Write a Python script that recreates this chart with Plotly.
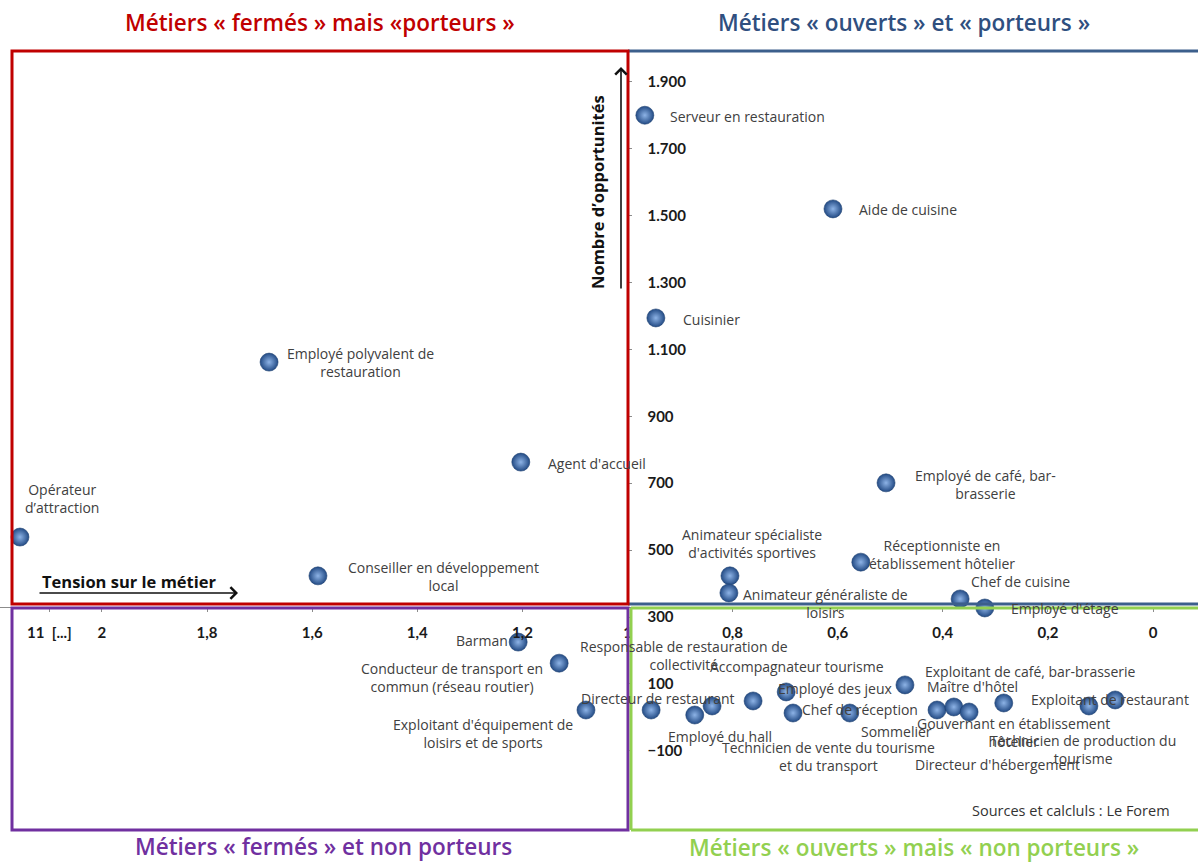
import plotly.graph_objects as go

# ---------------- data ----------------
metiers = [
    "Serveur en restauration", "Aide de cuisine", "Cuisinier",
    "Employé polyvalent de<br>restauration", "Agent d'accueil",
    "Opérateur<br>d’attraction", "Conseiller en développement<br>local",
    "Employé de café, bar-<br>brasserie",
    "Animateur spécialiste<br>d'activités sportives",
    "Réceptionniste en<br>établissement hôtelier",
    "Animateur généraliste de<br>loisirs", "Chef de cuisine", "Employé d'étage",
    "Barman", "Conducteur de transport en<br>commun (réseau routier)",
    "Exploitant d'équipement de<br>loisirs et de sports",
    "Responsable de restauration de<br>collectivité", "Employé du hall",
    "Technicien de vente du tourisme<br>et du transport",
    "Directeur de restaurant", "Accompagnateur tourisme", "Chef de réception",
    "Sommelier", "Employé des jeux", "Maître d'hôtel",
    "Gouvernant en établissement<br>hôtelier", "Directeur d'hébergement",
    "Exploitant de café, bar-brasserie",
    "Technicien de production du<br>tourisme", "Exploitant de restaurant",
]
tension = [0.967, 0.609, 0.946, 1.682, 1.203, 11, 1.589, 0.508, 0.805, 0.556,
           0.807, 0.367, 0.320, 1.208, 1.130, 1.079, 0.955, 0.872, 0.839, 0.761,
           0.698, 0.685, 0.577, 0.472, 0.411, 0.379, 0.350, 0.284, 0.122, 0.072]
opportunites = [1800, 1520, 1194, 1062, 763, 539, 423, 701, 423, 464,
                372, 354, 327, 225, 162, 22, 22, 7, 34, 49,
                76, 13, 13, 97, 22, 31, 16, 43, 34, 52]

x_tickvals = [2.1, 2, 1.8, 1.6, 1.4, 1.2, 1, 0.8, 0.6, 0.4, 0.2, 0]
x_ticktext = ["11  [...]", "2", "1,8", "1,6", "1,4", "1,2", "1", "0,8", "0,6", "0,4", "0,2", "0"]
y_tickvals = [-100, 100, 300, 500, 700, 900, 1100, 1300, 1500, 1700, 1900]

# ---------------- layout helpers (styles / placement) ----------------
W, H = 1198, 863
X_RANGE = [2.194, -0.0856]
Y_RANGE = [-435.4, 2144.5]
X_CROSS, Y_CROSS = 1, 330          # axes crossing values
AXIS_BREAK_LIMIT, BREAK_POS = 2.15, 2.156  # values beyond the break drawn at the break

def shown_x(v):
    return BREAK_POS if v > AXIS_BREAK_LIMIT else v

# label placement: (anchor, dx px, dy px) relative to the marker
label_pos = [
    ("left", 23, 1), ("left", 24, 1), ("left", 25, 2), ("center", 91, 0), ("left", 25, 1),
    ("center", 42, -39), ("center", 126, 1), ("center", 99, 2), ("center", 22, -32),
    ("center", 81, -8), ("center", 97, 11), ("center", 60, -17), ("center", 80, 1),
    ("right", -8, -2), ("center", -107, 14), ("center", -103, 23), ("center", 33, -55),
    ("center", 25, 21), ("center", 116, 51), ("right", -16, -2), ("center", 11, -25),
    ("center", 67, -4), ("center", 47, 18), ("right", -11, 4), ("center", 35, -24),
    ("center", 60, 26), ("center", 28, 52), ("center", 27, -31), ("center", -6, 44),
    ("center", -5, 0),
]

def px(xp, yp):
    return xp / W, (H - yp) / H

fig = go.Figure()

fig.add_trace(go.Scatter(
    x=[shown_x(v) for v in tension], y=opportunites, mode="markers",
    marker=dict(size=18, color="#234b85",
                gradient=dict(type="radial", color="#8db3e6"),
                line=dict(width=0.6, color="#1d3f70")),
    hoverinfo="skip", showlegend=False,
))

label_font = dict(family="Open Sans", size=14, color="#404040")
annotations = []
for name, tx, ty, (anc, dx, dy) in zip(metiers, tension, opportunites, label_pos):
    annotations.append(dict(
        x=shown_x(tx), y=ty, xref="x", yref="y", text=name, showarrow=False,
        xanchor=anc, yanchor="middle", align="center", xshift=dx, yshift=-dy,
        font=label_font,
    ))

# quadrant titles
title_font = dict(family="Open Sans", size=22.5, weight=600)
for txt, (xp, yp), col in [
    ("Métiers « fermés » mais «porteurs »", (320, 22), "#c00000"),
    ("Métiers « ouverts » et « porteurs »", (904, 22), "#2f4f7f"),
    ("Métiers « fermés » et non porteurs", (323, 846), "#7030a0"),
    ("Métiers « ouverts » mais « non porteurs »", (914, 847), "#92d050"),
]:
    xx, yy = px(xp, yp)
    annotations.append(dict(x=xx, y=yy, xref="paper", yref="paper", text=txt,
                            showarrow=False, xanchor="center", yanchor="middle",
                            font=dict(title_font, color=col)))

# axis titles and arrows
xx, yy = px(40, 581)
annotations.append(dict(x=xx, y=yy, xref="paper", yref="paper", text="<b>Tension sur le métier</b>",
                        showarrow=False, xanchor="left", yanchor="middle",
                        font=dict(family="Open Sans", size=16.5, color="#111111")))
xx, yy = px(238, 593)
annotations.append(dict(x=xx, y=yy, xref="paper", yref="paper", text="", showarrow=True,
                        ax=-200, ay=0, arrowhead=4, arrowsize=1.4, arrowwidth=1.6,
                        arrowcolor="#111111"))
xx, yy = px(598, 192)
annotations.append(dict(x=xx, y=yy, xref="paper", yref="paper", text="<b>Nombre d’opportunités</b>",
                        showarrow=False, textangle=-90, xanchor="center", yanchor="middle",
                        font=dict(family="Open Sans", size=16.5, color="#111111")))
xx, yy = px(621, 67)
annotations.append(dict(x=xx, y=yy, xref="paper", yref="paper", text="", showarrow=True,
                        ax=0, ay=223, arrowhead=4, arrowsize=1.4, arrowwidth=1.6,
                        arrowcolor="#111111"))
xx, yy = px(1172, 810)
annotations.append(dict(x=xx, y=yy, xref="paper", yref="paper", text="Sources et calcluls : Le Forem",
                        showarrow=False, xanchor="right", yanchor="middle",
                        font=dict(family="Open Sans", size=14.5, color="#333333")))

# quadrant frames
shapes = []
def line(x0, y0, x1, y1, col, w=3):
    a0, b0 = px(x0, y0)
    a1, b1 = px(x1, y1)
    shapes.append(dict(type="line", xref="paper", yref="paper", x0=a0, y0=b0, x1=a1, y1=b1,
                       line=dict(color=col, width=w)))

def rect(x0, y0, x1, y1, col, w=3):
    a0, b0 = px(x0, y0)
    a1, b1 = px(x1, y1)
    shapes.append(dict(type="rect", xref="paper", yref="paper", x0=a0, y0=b0, x1=a1, y1=b1,
                       line=dict(color=col, width=w), fillcolor="rgba(0,0,0,0)"))

line(628, 51, 1200, 51, "#3c5f8c")
line(628, 604, 1200, 604, "#3c5f8c")
rect(12, 51, 628, 604, "#c00000")
rect(12, 608, 628, 830, "#7030a0")
line(631, 608, 1200, 608, "#92d050")
line(631, 608, 631, 830, "#92d050")
line(631, 830, 1200, 830, "#92d050")

x_pos = (X_RANGE[0] - X_CROSS) / (X_RANGE[0] - X_RANGE[1])
y_pos = (Y_CROSS - Y_RANGE[0]) / (Y_RANGE[1] - Y_RANGE[0])

fig.update_layout(
    width=W, height=H,
    margin=dict(l=0, r=0, t=0, b=0, pad=0, autoexpand=False),
    plot_bgcolor="white", paper_bgcolor="white",
    separators=",.",
    annotations=annotations, shapes=shapes,
    xaxis=dict(range=X_RANGE, anchor="free", position=y_pos, showgrid=False, zeroline=False,
               showline=True, linecolor="#8c8c8c", linewidth=1, ticks="outside", ticklen=4,
               tickcolor="#8c8c8c", tickvals=x_tickvals, ticktext=x_ticktext,
               tickfont=dict(family="Lato", size=15, color="#1a1a1a", weight="bold"),
               ticklabelstandoff=8),
    yaxis=dict(range=Y_RANGE, anchor="free", position=x_pos, side="right", showgrid=False,
               zeroline=False, showline=False,
               ticks="outside", ticklen=4, tickcolor="#8c8c8c", tickvals=y_tickvals,
               separatethousands=True,
               tickfont=dict(family="Lato", size=15, color="#1a1a1a", weight="bold"),
               ticklabelstandoff=12),
)

fig.write_html("out.html", config={"displayModeBar": False},
               post_script="document.body.style.margin='0px';")
